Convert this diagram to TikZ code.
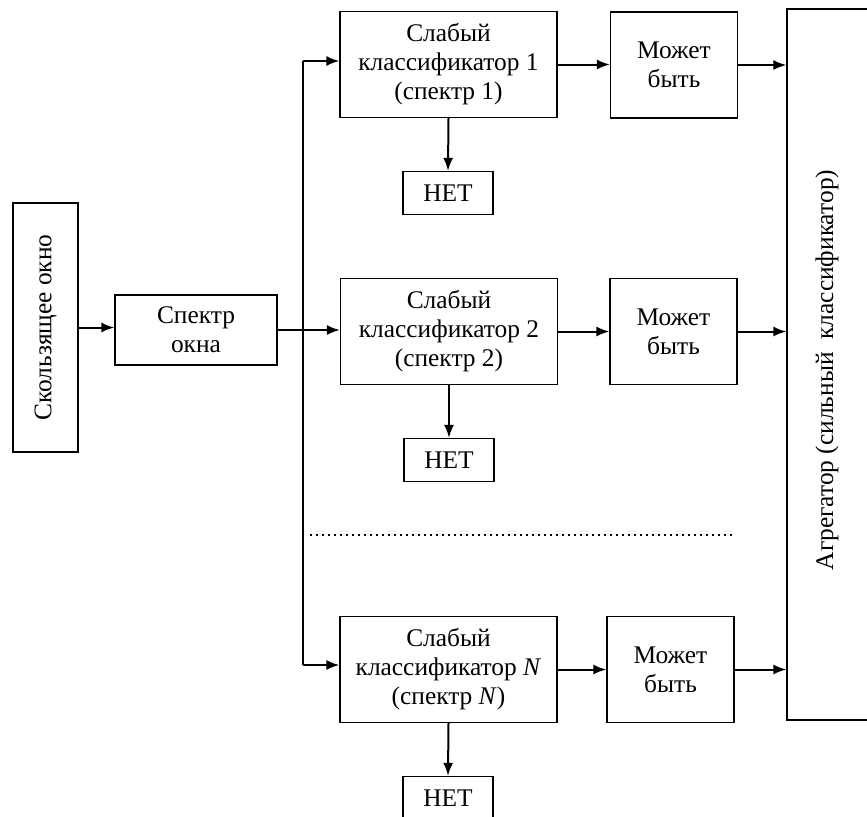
\documentclass[tikz,border=0pt]{standalone}
\usepackage{fontspec}
\setmainfont{Liberation Serif}
\usepackage{tikz}
\usetikzlibrary{arrows.meta}
\tikzset{>={Latex[length=6.5pt,width=5pt]}}
\tikzset{
    blk/.style={draw, line width=0.6pt, align=center, inner sep=0pt},
    clsbox/.style={blk, minimum width=108.5pt, minimum height=53pt},
    maybox/.style={blk, minimum width=63.5pt, minimum height=53pt},
    nobox/.style={blk, minimum width=45pt, minimum height=21.5pt},
    flow/.style={->, line width=1pt}
}

\begin{document}
\begin{tikzpicture}[x=0.5pt, y=-0.5pt, font=\fontsize{12.7pt}{14.5pt}\selectfont]
    \useasboundingbox (0,0) rectangle (867,816);
    \clip (0,0) rectangle (867,816);

    % Input blocks
    \node[blk, rotate=90, minimum width=124.5pt, minimum height=32.5pt] (win) at (45.5,327.5) {Скользящее окно};
    \node[blk, minimum width=81pt, minimum height=35pt] (spec) at (196,330) {Спектр\\окна};

    % Weak classifiers
    \node[clsbox] (cls1) at (448.5,64.5) {Слабый\\классификатор 1\\(спектр 1)};
    \node[clsbox] (cls2) at (449,331.5) {Слабый\\классификатор 2\\(спектр 2)};
    \node[clsbox] (clsN) at (448.5,669.5) {Слабый\\классификатор \textit{N}\\(спектр \textit{N})};

    % "Maybe" outputs
    \node[maybox] (may1) at (674,65) {Может\\быть};
    \node[maybox] (may2) at (673.5,331.5) {Может\\быть};
    \node[maybox] (mayN) at (670.5,669.5) {Может\\быть};

    % "No" outputs
    \node[nobox] (no1) at (448,193) {НЕТ};
    \node[nobox] (no2) at (449,460) {НЕТ};
    \node[nobox] (noN) at (448,798) {НЕТ};

    % Aggregator
    \node[blk, minimum width=40.5pt, minimum height=355.5pt] (agg) at (827.5,364.5) {};
    \node[rotate=90] (aggtxt) at (827,370) {Агрегатор (сильный\ \ классификатор)};

    % Bus
    \coordinate (busT) at (303,61);
    \coordinate (busB) at (303,665);
    \draw[line width=1pt] (busT) -- (busB);

    % Dotted separator
    \coordinate (dotL) at (310,535);
    \coordinate (dotR) at (733,535);
    \draw[line width=1pt, dotted] (dotL) -- (dotR);

    % Signal path
    \draw[flow] (win.south) -- (win.south -| spec.west);
    \draw[flow] (spec.east) -- (spec.east -| cls2.west);
    \draw[flow] (busT) -- (busT -| cls1.west);
    \draw[flow] (busB) -- (busB -| clsN.west);

    \draw[flow] (cls1.east) -- (cls1.east -| may1.west);
    \draw[flow] (cls2.east) -- (cls2.east -| may2.west);
    \draw[flow] (clsN.east) -- (clsN.east -| mayN.west);

    \draw[flow] (cls1.south) -- (no1.north);
    \draw[flow] (cls2.south) -- (no2.north);
    \draw[flow] (clsN.south) -- (noN.north);

    \draw[flow] (may1.east) -- (may1.east -| agg.west);
    \draw[flow] (may2.east) -- (may2.east -| agg.west);
    \draw[flow] (mayN.east) -- (mayN.east -| agg.west);
\end{tikzpicture}
\end{document}
